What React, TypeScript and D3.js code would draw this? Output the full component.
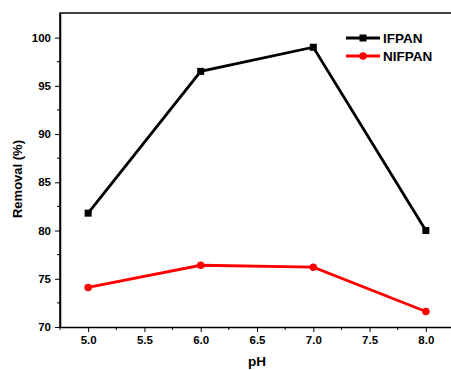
import { useEffect, useRef } from "react";
import * as d3 from "d3";

const phValues = [5.0, 6.0, 7.0, 8.0];
const ifpan = [81.8, 96.5, 99.0, 80.0];
const nifpan = [74.1, 76.4, 76.2, 71.6];
const xTicks = [5.0, 5.5, 6.0, 6.5, 7.0, 7.5, 8.0];
const yTicks = [70, 75, 80, 85, 90, 95, 100];

const App = () => {
  const svgRef = useRef<SVGSVGElement | null>(null);

  useEffect(() => {
    const svg = d3.select(svgRef.current);
    const width = 451;
    const height = 370;
    const margin = { top: 13, right: -3, bottom: 43, left: 60 };
    const font = "'Liberation Sans', Arial, sans-serif";

    svg.selectAll("*").remove();

    const x = d3
      .scaleLinear()
      .domain([4.75, 8.25])
      .range([margin.left, width - margin.right]);

    const y = d3
      .scaleLinear()
      .domain([70, 102.55])
      .range([height - margin.bottom, margin.top]);

    // frame
    svg
      .append("path")
      .attr(
        "d",
        `M${margin.left},${height - margin.bottom}V${margin.top}H${width - margin.right}`
      )
      .attr("fill", "none")
      .attr("stroke", "black")
      .attr("stroke-width", 1.5);

    const xAxis = svg
      .append("g")
      .attr("transform", `translate(0,${height - margin.bottom})`)
      .call(
        d3
          .axisBottom(x)
          .tickValues(xTicks)
          .tickFormat(d3.format(".1f"))
          .tickSize(5)
          .tickSizeOuter(0)
          .tickPadding(4)
      );
    xAxis
      .selectAll("text")
      .style("font-family", font)
      .style("font-size", "11.5px")
      .style("font-weight", "bold");
    xAxis.select(".domain").attr("stroke-width", 1.5);

    const xMinor = d3.range(4.75, 8.26, 0.25).filter(
      (v) => !xTicks.some((t) => Math.abs(t - v) < 1e-6)
    );
    svg
      .append("g")
      .selectAll("line")
      .data(xMinor)
      .join("line")
      .attr("x1", (d) => x(d))
      .attr("x2", (d) => x(d))
      .attr("y1", height - margin.bottom)
      .attr("y2", height - margin.bottom + 3)
      .attr("stroke", "black");

    const yAxis = svg
      .append("g")
      .attr("transform", `translate(${margin.left},0)`)
      .call(
        d3
          .axisLeft(y)
          .tickValues(yTicks)
          .tickSize(5)
          .tickSizeOuter(0)
          .tickPadding(4)
      );
    yAxis
      .selectAll("text")
      .style("font-family", font)
      .style("font-size", "11.5px")
      .style("font-weight", "bold");
    yAxis.select(".domain").attr("stroke-width", 1.5);

    svg
      .append("g")
      .selectAll("line")
      .data(d3.range(72.5, 102.5, 5))
      .join("line")
      .attr("x1", margin.left - 3)
      .attr("x2", margin.left)
      .attr("y1", (d) => y(d))
      .attr("y2", (d) => y(d))
      .attr("stroke", "black");

    // axis titles
    svg
      .append("text")
      .attr("transform", `translate(22,179) rotate(-90)`)
      .attr("text-anchor", "middle")
      .style("font-family", font)
      .style("font-size", "13px")
      .style("font-weight", "bold")
      .text("Removal (%)");

    svg
      .append("text")
      .attr("x", 257)
      .attr("y", 366)
      .attr("text-anchor", "middle")
      .style("font-family", font)
      .style("font-size", "13.5px")
      .style("font-weight", "bold")
      .text("pH");

    const series = [
      { name: "IFPAN", values: ifpan, color: "black", marker: "square" },
      { name: "NIFPAN", values: nifpan, color: "red", marker: "circle" },
    ];

    const line = d3
      .line<number>()
      .x((_, i) => x(phValues[i]))
      .y((d) => y(d));

    series.forEach((s) => {
      svg
        .append("path")
        .datum(s.values)
        .attr("d", line)
        .attr("fill", "none")
        .attr("stroke", s.color)
        .attr("stroke-width", 2.8);

      if (s.marker === "square") {
        svg
          .append("g")
          .selectAll("rect")
          .data(s.values)
          .join("rect")
          .attr("x", (_, i) => x(phValues[i]) - 3.5)
          .attr("y", (d) => y(d) - 3.5)
          .attr("width", 7)
          .attr("height", 7)
          .attr("fill", s.color);
      } else {
        svg
          .append("g")
          .selectAll("circle")
          .data(s.values)
          .join("circle")
          .attr("cx", (_, i) => x(phValues[i]))
          .attr("cy", (d) => y(d))
          .attr("r", 3.8)
          .attr("fill", s.color);
      }
    });

    // legend
    const legend = svg.append("g");
    series.forEach((s, i) => {
      const ly = 38 + i * 18;
      legend
        .append("line")
        .attr("x1", 346)
        .attr("x2", 380)
        .attr("y1", ly)
        .attr("y2", ly)
        .attr("stroke", s.color)
        .attr("stroke-width", 2.8);
      if (s.marker === "square") {
        legend
          .append("rect")
          .attr("x", 363 - 3.5)
          .attr("y", ly - 3.5)
          .attr("width", 7)
          .attr("height", 7)
          .attr("fill", s.color);
      } else {
        legend
          .append("circle")
          .attr("cx", 363)
          .attr("cy", ly)
          .attr("r", 3.8)
          .attr("fill", s.color);
      }
      legend
        .append("text")
        .attr("x", 383)
        .attr("y", ly + 5)
        .style("font-family", font)
        .style("font-size", "13.5px")
        .style("font-weight", "bold")
        .text(s.name);
    });
  }, []);

  return (
    <svg
      ref={svgRef}
      width={451}
      height={370}
      style={{ position: "absolute", left: 0, top: 0, background: "white" }}
    ></svg>
  );
};

export default App;
